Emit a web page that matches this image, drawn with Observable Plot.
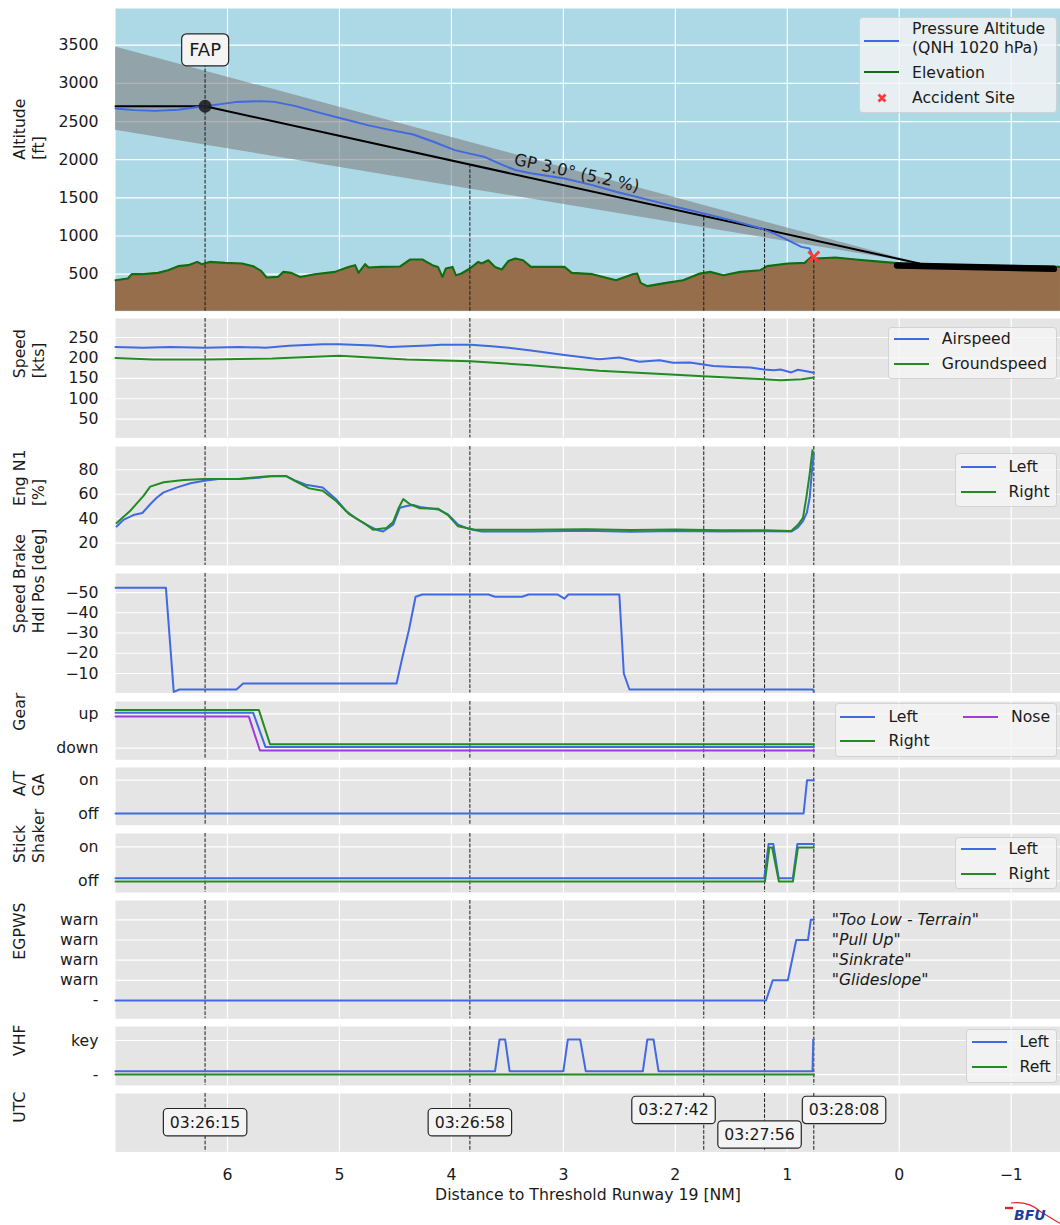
<!DOCTYPE html>
<html><head><meta charset="utf-8">
<script src="https://cdn.jsdelivr.net/npm/d3@7"></script>
<script src="https://cdn.jsdelivr.net/npm/@observablehq/plot@0.6"></script>
<style>
html,body{margin:0;padding:0;background:#fff;}
#fig{position:relative;width:1060px;height:1225px;font-family:"DejaVu Sans",sans-serif;color:#1a1a1a;overflow:hidden;}
.panel{position:absolute;left:0;}
.panel svg{display:block;overflow:visible;}
.legend{position:absolute;background:rgba(245,245,245,0.8);border:1px solid rgba(204,204,204,0.8);border-radius:4px;box-sizing:border-box;}
.lg-line{position:absolute;height:2px;}
.lg-text{position:absolute;font-size:15.7px;line-height:1;white-space:nowrap;transform:translateY(-50%);color:#1a1a1a;}
</style></head><body><div id="fig"></div><script>
// ---------------- DATA ----------------
const xTicks = [6, 5, 4, 3, 2, 1, 0, -1];
const markerX = [6.2, 3.835, 1.746, 1.203, 0.763];
const markerTimes = ["03:26:15", "03:26:58", "03:27:42", "03:27:56", "03:28:08"];
const markerRow = [0.5, 0.5, 0.71, 0.29, 0.71];
const markerAnchor = ["middle", "middle", "end", "middle", "start"];
const markerShift = [0, 0, 5, -5, -5];
const markerAltTop = [3430, 1937, 1273, 1085, 726];

// Altitude panel
const altTicks = [500, 1000, 1500, 2000, 2500, 3000, 3500];
const pressureAlt = [[7.0,2670],[6.83,2650],[6.65,2640],[6.44,2655],[6.26,2690],[6.2,2700],[6.08,2725],[5.93,2755],[5.70,2768],[5.58,2757],[5.40,2705],[5.19,2620],[4.98,2540],[4.74,2450],[4.55,2390],[4.34,2330],[4.16,2235],[3.97,2125],[3.835,2080],[3.70,2035],[3.55,1935],[3.43,1865],[3.29,1823],[2.99,1753],[2.74,1666],[2.53,1580],[2.23,1470],[1.99,1380],[1.746,1295],[1.48,1198],[1.24,1102],[1.12,1035],[0.995,945],[0.874,857],[0.80,836],[0.77,726]];
const elevation = [[7.0,421],[6.89,443],[6.855,500],[6.77,500],[6.62,517],[6.53,552],[6.44,605],[6.35,618],[6.27,661],[6.23,631],[6.16,661],[6.02,648],[5.87,640],[5.77,605],[5.70,543],[5.65,456],[5.55,464],[5.50,530],[5.43,517],[5.35,464],[5.22,500],[5.04,530],[4.92,595],[4.86,618],[4.83,517],[4.77,631],[4.74,588],[4.63,595],[4.46,600],[4.37,692],[4.26,692],[4.17,618],[4.12,595],[4.08,464],[4.05,574],[3.99,595],[3.96,487],[3.91,509],[3.835,574],[3.76,661],[3.73,640],[3.67,683],[3.61,595],[3.55,561],[3.49,674],[3.43,705],[3.36,683],[3.29,595],[2.99,595],[2.925,517],[2.74,500],[2.53,421],[2.38,500],[2.34,509],[2.31,386],[2.25,343],[2.08,386],[1.93,421],[1.78,509],[1.69,530],[1.57,487],[1.42,530],[1.24,552],[1.18,605],[0.995,640],[0.845,648],[0.785,726],[0.74,705],[0.57,718],[0.39,692],[0.15,661],[-0.03,640],[-0.33,618],[-1.44,595]];
const glidePath = [[7, 2700], [6.2, 2700], [-0.18, 640]];
const gpBandX = [7, -0.18];
const gpBandLow = [2386, 640];
const gpBandHigh = [3478, 640];
const runway = [[0.02, 615], [-1.38, 570]];
const fapPoint = [[6.2, 2700]];
const accidentSite = [[0.763, 726]];
const gpLabel = "GP 3.0° (5.2 %)";
const gpLabelX = 2.88;
const fapLabel = "FAP";
const fapLabelAlt = 3430;

// Speed panel
const speedTicks = [50, 100, 150, 200, 250];
const airspeed = [[7.0,227],[6.75,225],[6.51,227],[6.2,225],[5.9,227],[5.66,225],[5.45,229.5],[5.15,233.5],[5.0,233.5],[4.7,230.5],[4.55,227],[4.21,230.5],[4.09,232],[3.83,232],[3.64,228.5],[3.49,225],[3.29,218],[2.99,207],[2.68,197],[2.50,201],[2.32,190.5],[2.14,194.5],[2.02,188],[1.87,188.7],[1.75,184],[1.66,180],[1.48,178],[1.33,176.5],[1.21,171.5],[1.12,170],[1.06,171.5],[0.965,164.5],[0.905,171],[0.83,167.5],[0.763,163.5]];
const groundspeed = [[7.0,200],[6.66,196],[6.2,196],[5.6,198.5],[5.0,205],[4.4,196],[3.83,192],[3.29,182],[2.68,168.3],[2.08,160.2],[1.75,155.3],[1.21,148],[1.06,145.5],[0.87,148],[0.763,152]];

// Engine N1 panel
const n1Ticks = [20, 40, 60, 80];
const n1Left = [[6.99,33.6],[6.93,39],[6.84,43],[6.76,44.7],[6.69,51.8],[6.63,57.3],[6.57,61.5],[6.45,65.6],[6.33,69],[6.21,71],[6.08,72.5],[5.90,72.5],[5.72,73.4],[5.60,75],[5.48,75],[5.39,71],[5.30,67.8],[5.15,65.6],[5.03,56],[4.94,46.3],[4.85,40.2],[4.76,35.2],[4.67,31],[4.61,29.6],[4.52,35.2],[4.46,49],[4.40,50.4],[4.34,51.2],[4.28,49.6],[4.12,47.6],[4.03,43.5],[3.94,35.2],[3.85,31.9],[3.73,29.6],[3.29,29.6],[2.8,30.2],[2.4,29.3],[2.0,30],[1.6,29.5],[1.2,29.8],[0.965,29.5],[0.905,33],[0.86,38],[0.825,45],[0.80,57.3],[0.78,79],[0.763,93]];
const n1Right = [[6.99,36.5],[6.87,46.3],[6.75,58.7],[6.69,66.2],[6.57,69.8],[6.39,71.7],[6.21,72.5],[5.90,72.5],[5.66,74.5],[5.48,75],[5.39,70.6],[5.27,64.8],[5.15,62.8],[5.03,54.5],[4.91,43.5],[4.76,35.2],[4.70,31],[4.58,32.4],[4.52,37.4],[4.47,49],[4.43,56],[4.37,51.8],[4.28,48.5],[4.12,48.2],[4.03,42.9],[3.94,33.8],[3.79,31],[3.29,31],[2.8,31.5],[2.4,30.8],[2.0,31.2],[1.6,30.5],[1.2,30.5],[0.965,30],[0.905,35],[0.86,40.7],[0.83,57.3],[0.80,76.7],[0.775,96]];

// Speed brake panel
const sbTicks = [-50, -40, -30, -20, -10];
const speedBrake = [[7.0,-52.3],[6.55,-52.3],[6.48,-0.9],[6.43,-2.1],[5.92,-2.1],[5.86,-5.1],[4.49,-5.1],[4.44,-17.4],[4.38,-31.4],[4.32,-47.9],[4.26,-49],[3.67,-49],[3.61,-47.9],[3.37,-47.9],[3.31,-49],[3.05,-49],[2.99,-47],[2.955,-49],[2.50,-49],[2.46,-10],[2.41,-2.1],[0.77,-2.1],[0.763,-0.9]];

// Gear panel
const gearTickLabels = ["down", "up"];
const gearLeft = [[7,1.03],[5.77,1.03],[5.66,0.03],[0.763,0.03]];
const gearRight = [[7,1.115],[5.72,1.115],[5.62,0.115],[0.763,0.115]];
const gearNose = [[7,0.925],[5.81,0.925],[5.71,-0.07],[0.763,-0.07]];

// A/T GA
const onOffLabels = ["off", "on"];
const atGa = [[7,0],[0.854,0],[0.823,1],[0.763,1]];

// Stick shaker
const ssLeft = [[7,0.08],[1.206,0.08],[1.167,1.08],[1.125,1.08],[1.077,0.08],[0.95,0.08],[0.91,1.08],[0.763,1.08]];
const ssRight = [[7,-0.02],[1.20,-0.02],[1.16,0.98],[1.135,0.98],[1.075,-0.02],[0.95,-0.02],[0.905,0.98],[0.763,0.98]];

// EGPWS
const egpwsTickLabels = ["-", "warn", "warn", "warn", "warn"];
const egpws = [[7,0],[1.19,0],[1.13,1],[0.995,1],[0.92,3],[0.815,3],[0.79,4],[0.763,4]];
const egpwsMessages = ['"Too Low - Terrain"', '"Pull Up"', '"Sinkrate"', '"Glideslope"'];
const egpwsMessageLevel = [4, 3, 2, 1];
const egpwsMessageX = 0.603;

// VHF
const vhfTickLabels = ["-", "key"];
const vhfLeft = [[7,0.1],[3.61,0.1],[3.57,1.03],[3.52,1.03],[3.48,0.1],[3.00,0.1],[2.96,1.03],[2.85,1.03],[2.80,0.1],[2.29,0.1],[2.25,1.03],[2.195,1.03],[2.15,0.1],[0.775,0.1],[0.768,1.03],[0.763,1.03]];
const vhfRight = [[7,0],[0.763,0]];

// ---------------- STYLE / LAYOUT ----------------
const X_DOMAIN = [7, -1.44];
const FS = 15.7;
const BLUE = "#4169e1", GREEN = "#228b22", PURPLE = "#a03cd8", ELEV = "#106e10", BROWN = "#966e4b", RED = "#ff3838";
const DASH = {stroke: "#1a1a1a", strokeDasharray: "3.7,1.6", strokeWidth: 1};
const LW = 2;
const fig = document.getElementById("fig");
const minus = d => d < 0 ? "\u2212" + Math.abs(d) : String(d);
const px = d => d[0], py = d => d[1];
const ln = (data, stroke, w = LW) => Plot.line(data, {x: px, y: py, stroke, strokeWidth: w, strokeLinejoin: "round"});

function yLabel(lines) {
  const base = {frameAnchor: "left", text: d => d, rotate: -90, fontSize: FS, fill: "#1a1a1a"};
  if (lines.length === 1) return [Plot.text([lines[0]], {...base, dx: -95.5})];
  return [Plot.text([lines[0]], {...base, dx: -96}), Plot.text([lines[1]], {...base, dx: -76.5})];
}

function panel({top, h, dom, bg = "#e5e5e5", ticks, tickFormat, label, marks, xAxis = false}) {
  const mb = xAxis ? 1225 - top - h : 0;
  const svg = Plot.plot({
    width: 1060, height: h + mb,
    marginLeft: 115, marginRight: 0, marginTop: 0, marginBottom: mb,
    style: {fontFamily: "DejaVu Sans", fontSize: FS + "px", color: "#1a1a1a", background: "transparent", overflow: "visible"},
    x: xAxis ? {domain: X_DOMAIN, label: null} : {domain: X_DOMAIN, axis: null, label: null},
    y: {domain: dom, label: null},
    marks: [
      Plot.frame({fill: bg, stroke: null}),
      Plot.gridX(xTicks, {stroke: "white", strokeOpacity: 1, strokeWidth: 1.2}),
      Plot.gridY(ticks, {stroke: "white", strokeOpacity: 1, strokeWidth: 1.2}),
      Plot.axisY(ticks, {tickSize: 0, tickPadding: 17, tickFormat: tickFormat || minus, fontSize: FS, fill: "#1a1a1a", label: null}),
      ...(xAxis ? [Plot.axisX(xTicks, {tickSize: 0, tickPadding: 17, tickFormat: minus, fontSize: FS, fill: "#1a1a1a", label: null}),
        Plot.text(["Distance to Threshold Runway 19 [NM]"], {frameAnchor: "bottom", text: d => d, dy: 48.3, fontSize: FS, fill: "#1a1a1a"})] : []),
      ...marks,
      ...yLabel(label)
    ]
  });
  const wrap = document.createElement("div");
  wrap.className = "panel";
  wrap.style.top = top + "px";
  wrap.appendChild(svg);
  fig.appendChild(wrap);
  return svg;
}

// ---------------- PANELS ----------------
const ALT_DOM = [15, 3981];
const ALT_H = 302.7;
const gpAt = x => {
  const [a, b] = [glidePath[1], glidePath[2]];
  return a[1] + (b[1] - a[1]) * (a[0] - x) / (a[0] - b[0]);
};
const pxPerFt = ALT_H / (ALT_DOM[1] - ALT_DOM[0]);
const pxPerNM = 945 / (X_DOMAIN[0] - X_DOMAIN[1]);
const gpAngle = Math.atan2((glidePath[1][1] - glidePath[2][1]) * pxPerFt, (glidePath[1][0] - glidePath[2][0]) * pxPerNM) * 180 / Math.PI;

panel({top: 8.3, h: ALT_H, dom: ALT_DOM, bg: "#add8e6", ticks: altTicks, label: ["Altitude", "[ft]"], marks: [
  Plot.areaY(gpBandX.map((x, i) => ({x, lo: gpBandLow[i], hi: gpBandHigh[i]})), {x: "x", y1: "lo", y2: "hi", fill: "#808080", fillOpacity: 0.6}),
  Plot.areaY(elevation, {x: px, y1: () => ALT_DOM[0], y2: py, fill: BROWN}),
  ln(elevation, ELEV, 2.1),
  Plot.line(runway, {x: px, y: py, stroke: "black", strokeWidth: 6.5}),
  ln(glidePath, "black", 2),
  ln(pressureAlt, BLUE, 1.9),
  Plot.ruleX(markerX.map((x, i) => ({x, top: markerAltTop[i]})), {x: "x", y1: () => ALT_DOM[0], y2: "top", ...DASH}),
  Plot.dot(fapPoint, {x: px, y: py, r: 6.5, fill: "#1a1a1a", fillOpacity: 0.85, stroke: null}),
  Plot.dot(accidentSite, {x: px, y: py, symbol: "times", r: 5, stroke: RED, strokeWidth: 2.8}),
  Plot.text([gpLabel], {x: () => gpLabelX, y: () => gpAt(gpLabelX), text: d => d, rotate: gpAngle, dy: -15, fontSize: 16.5, fill: "#1a1a1a"}),
  Plot.text([fapLabel], {x: () => fapPoint[0][0], y: () => fapLabelAlt, text: d => d, fontSize: 18, fill: "#1a1a1a"})
]});

panel({top: 318.3, h: 119.4, dom: [4.2, 296.5], ticks: speedTicks, label: ["Speed", "[kts]"], marks: [
  Plot.ruleX(markerX, DASH),
  ln(airspeed, BLUE), ln(groundspeed, GREEN)
]});

panel({top: 446, h: 119, dom: [1.8, 99], ticks: n1Ticks, label: ["Eng N1", "[%]"], marks: [
  Plot.ruleX(markerX, DASH),
  ln(n1Left, BLUE), ln(n1Right, GREEN)
]});

panel({top: 573.3, h: 119.4, dom: [-0.42, -59.4], ticks: sbTicks, label: ["Speed Brake", "Hdl Pos [deg]"], marks: [
  Plot.ruleX(markerX, DASH),
  ln(speedBrake, BLUE)
]});

panel({top: 701, h: 58.3, dom: [-0.34, 1.36], ticks: [0, 1], tickFormat: d => gearTickLabels[d], label: ["Gear"], marks: [
  Plot.ruleX(markerX, DASH),
  ln(gearNose, PURPLE), ln(gearLeft, BLUE), ln(gearRight, GREEN)
]});

panel({top: 767.3, h: 57.7, dom: [-0.35, 1.38], ticks: [0, 1], tickFormat: d => onOffLabels[d], label: ["A/T", "GA"], marks: [
  Plot.ruleX(markerX, DASH),
  ln(atGa, BLUE)
]});

panel({top: 833.3, h: 59, dom: [-0.34, 1.39], ticks: [0, 1], tickFormat: d => onOffLabels[d], label: ["Stick", "Shaker"], marks: [
  Plot.ruleX(markerX, DASH),
  ln(ssLeft, BLUE), ln(ssRight, GREEN)
]});

panel({top: 900, h: 118.3, dom: [-0.91, 4.96], ticks: [0, 1, 2, 3, 4], tickFormat: d => egpwsTickLabels[d], label: ["EGPWS"], marks: [
  Plot.ruleX(markerX, DASH),
  ln(egpws, BLUE),
  Plot.text(egpwsMessages.map((m, i) => ({m, lvl: egpwsMessageLevel[i]})), {x: () => egpwsMessageX, y: "lvl", text: "m", textAnchor: "start", fontStyle: "italic", fontSize: FS, fill: "#1a1a1a"})
]});

panel({top: 1026, h: 59, dom: [-0.32, 1.41], ticks: [0, 1], tickFormat: d => vhfTickLabels[d], label: ["VHF"], marks: [
  Plot.ruleX(markerX, DASH),
  ln(vhfLeft, BLUE), ln(vhfRight, GREEN)
]});

panel({top: 1093.3, h: 58.4, dom: [0, 1], ticks: [], label: ["UTC"], xAxis: true, marks: [
  Plot.ruleX(markerX, DASH),
  ...markerX.map((x, i) => Plot.text([{x, y: markerRow[i], t: markerTimes[i]}], {x: "x", y: "y", text: "t", textAnchor: markerAnchor[i], dx: markerShift[i], fontSize: FS, fill: "#1a1a1a"}))
]});

// ---------------- boxed labels (rounded boxes behind label text) ----------------
const boxStyle = {};
boxStyle[fapLabel] = {padX: 7.5, padY: 5.5, r: 5};
markerTimes.forEach(t => boxStyle[t] = {padX: 6.5, padY: 4.2, r: 4});
fig.querySelectorAll("svg text").forEach(t => {
  const cfg = boxStyle[t.textContent];
  if (!cfg) return;
  const b = t.getBBox();
  const r = document.createElementNS("http://www.w3.org/2000/svg", "rect");
  r.setAttribute("x", b.x - cfg.padX);
  r.setAttribute("y", b.y - cfg.padY);
  r.setAttribute("width", b.width + 2 * cfg.padX);
  r.setAttribute("height", b.height + 2 * cfg.padY);
  r.setAttribute("rx", cfg.r);
  r.setAttribute("fill", "#f4f4f4");
  r.setAttribute("stroke", "#262626");
  r.setAttribute("stroke-width", "1.2");
  if (t.getAttribute("transform")) r.setAttribute("transform", t.getAttribute("transform"));
  t.parentNode.insertBefore(r, t);
});

// ---------------- LEGENDS ----------------
function addEl(tag, cls, styles, text) {
  const e = document.createElement(tag);
  if (cls) e.className = cls;
  Object.assign(e.style, styles);
  if (text != null) e.textContent = text;
  fig.appendChild(e);
  return e;
}
function legend(box, items) {
  addEl("div", "legend", {left: box[0] + "px", top: box[1] + "px", width: (box[2] - box[0]) + "px", height: (box[3] - box[1]) + "px"});
  for (const it of items) {
    if (it.line) addEl("div", "lg-line", {left: it.line[0] + "px", width: (it.line[1] - it.line[0]) + "px", top: (it.ly - 1) + "px", background: it.color});
    if (it.cross) {
      const s = document.createElementNS("http://www.w3.org/2000/svg", "svg");
      s.setAttribute("width", 12); s.setAttribute("height", 12);
      s.style.position = "absolute"; s.style.left = (it.cross[0] - 6) + "px"; s.style.top = (it.cross[1] - 6) + "px";
      s.innerHTML = `<path d="M2.5,2.5L9.5,9.5M9.5,2.5L2.5,9.5" stroke="${it.color}" stroke-width="2.8" stroke-linecap="butt"/>`;
      fig.appendChild(s);
    }
    it.texts.forEach(([txt, tx, ty]) => addEl("div", "lg-text", {left: tx + "px", top: ty + "px"}, txt));
  }
}
legend([859, 16.7, 1057.4, 112.7], [
  {line: [864, 899], ly: 40.7, color: BLUE, texts: [["Pressure Altitude", 912, 29.3], ["(QNH 1020 hPa)", 912, 48.3]]},
  {line: [864, 899], ly: 72.3, color: ELEV, texts: [["Elevation", 912, 72.7]]},
  {cross: [882, 97.7], color: RED, texts: [["Accident Site", 912, 97.7]]}
]);
legend([888.4, 326.7, 1057.4, 379.3], [
  {line: [894.4, 929], ly: 339.3, color: BLUE, texts: [["Airspeed", 941.8, 339.3]]},
  {line: [894.4, 929], ly: 364, color: GREEN, texts: [["Groundspeed", 941.8, 364]]}
]);
legend([955.3, 453.3, 1057.4, 506.7], [
  {line: [961.4, 995.9], ly: 466.7, color: BLUE, texts: [["Left", 1008.4, 466.7]]},
  {line: [961.4, 995.9], ly: 491.7, color: GREEN, texts: [["Right", 1008.4, 491.7]]}
]);
legend([835.3, 703.3, 1057.4, 756.7], [
  {line: [840.4, 875.5], ly: 716.7, color: BLUE, texts: [["Left", 888.4, 716.7]]},
  {line: [840.4, 875.5], ly: 741, color: GREEN, texts: [["Right", 888.4, 741]]},
  {line: [963.4, 998.2], ly: 716.7, color: PURPLE, texts: [["Nose", 1011, 716.7]]}
]);
legend([955.3, 837.3, 1057.4, 889.3], [
  {line: [961.4, 995.9], ly: 849.3, color: BLUE, texts: [["Left", 1008.4, 849.3]]},
  {line: [961.4, 995.9], ly: 874, color: GREEN, texts: [["Right", 1008.4, 874]]}
]);
legend([966, 1029.3, 1057.4, 1082.7], [
  {line: [972.2, 1006.7], ly: 1041.7, color: BLUE, texts: [["Left", 1019.5, 1041.7]]},
  {line: [972.2, 1006.7], ly: 1066.7, color: GREEN, texts: [["Reft", 1019.5, 1066.7]]}
]);

// ---------------- BFU logo ----------------
const logo = document.createElementNS("http://www.w3.org/2000/svg", "svg");
logo.setAttribute("width", 60); logo.setAttribute("height", 27);
Object.assign(logo.style, {position: "absolute", left: "1001px", top: "1198px"});
logo.innerHTML = `<line x1="4" y1="10" x2="12" y2="10" stroke="#e0202a" stroke-width="2.4"/>
<path d="M10,5 Q28,3 40,14 L60,26" stroke="#e0202a" stroke-width="1.2" fill="none"/>
<text x="13" y="22" font-family="DejaVu Sans" font-weight="bold" font-style="italic" font-size="14" fill="#1f3fa0">BFU</text>`;
fig.appendChild(logo);
</script></body></html>
